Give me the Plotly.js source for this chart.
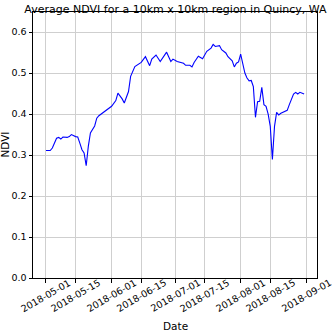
<!DOCTYPE html>
<html>
<head>
<meta charset="utf-8">
<script src="https://cdn.plot.ly/plotly-3.0.1.min.js"></script>
<style>
  html, body { margin: 0; padding: 0; background: #fff; }
  #plot-area { width: 333px; height: 333px; }
</style>
</head>
<body>
<div id="plot-area"></div>
<script>
// NDVI readings
var dates = [
    "2018-05-01", "2018-05-03", "2018-05-04", "2018-05-05", "2018-05-06", "2018-05-07",
    "2018-05-08", "2018-05-09", "2018-05-11", "2018-05-12", "2018-05-13", "2018-05-15",
    "2018-05-16", "2018-05-17", "2018-05-18", "2018-05-19", "2018-05-20", "2018-05-21",
    "2018-05-22", "2018-05-24", "2018-05-25", "2018-05-26", "2018-05-28", "2018-05-30",
    "2018-06-01", "2018-06-03", "2018-06-04", "2018-06-06", "2018-06-07", "2018-06-09",
    "2018-06-10", "2018-06-12", "2018-06-14", "2018-06-15", "2018-06-17", "2018-06-19",
    "2018-06-20", "2018-06-22", "2018-06-24", "2018-06-25", "2018-06-27", "2018-06-29",
    "2018-06-30", "2018-07-02", "2018-07-05", "2018-07-06", "2018-07-08", "2018-07-09",
    "2018-07-10", "2018-07-12", "2018-07-14", "2018-07-16", "2018-07-18", "2018-07-19",
    "2018-07-20", "2018-07-22", "2018-07-23", "2018-07-25", "2018-07-26", "2018-07-28",
    "2018-07-29", "2018-07-30", "2018-07-31", "2018-08-01", "2018-08-02", "2018-08-03",
    "2018-08-04", "2018-08-05", "2018-08-06", "2018-08-07", "2018-08-08", "2018-08-09",
    "2018-08-10", "2018-08-11", "2018-08-12", "2018-08-13", "2018-08-14", "2018-08-15",
    "2018-08-16", "2018-08-17", "2018-08-18", "2018-08-19", "2018-08-20", "2018-08-22",
    "2018-08-23", "2018-08-24", "2018-08-25", "2018-08-26", "2018-08-27", "2018-08-28",
    "2018-08-29", "2018-08-31"
];
var ndvi = [
    0.311, 0.311, 0.317, 0.328, 0.341, 0.343,
    0.339, 0.344, 0.343, 0.345, 0.350, 0.345,
    0.344, 0.329, 0.313, 0.305, 0.274, 0.321,
    0.354, 0.371, 0.390, 0.396, 0.404, 0.410,
    0.419, 0.433, 0.451, 0.437, 0.427, 0.455,
    0.492, 0.516, 0.523, 0.526, 0.540, 0.518,
    0.534, 0.544, 0.528, 0.536, 0.551, 0.528,
    0.534, 0.528, 0.524, 0.519, 0.519, 0.515,
    0.526, 0.541, 0.535, 0.553, 0.561, 0.570,
    0.565, 0.567, 0.557, 0.549, 0.540, 0.530,
    0.515, 0.524, 0.527, 0.546, 0.524, 0.500,
    0.488, 0.481, 0.482, 0.467, 0.392, 0.430,
    0.431, 0.465, 0.423, 0.419, 0.400, 0.370,
    0.289, 0.370, 0.404, 0.398, 0.402, 0.406,
    0.409, 0.423, 0.438, 0.449, 0.453, 0.449,
    0.453, 0.449
];

var xTickVals = ["2018-05-01", "2018-05-15", "2018-06-01", "2018-06-15", "2018-07-01",
                 "2018-07-15", "2018-08-01", "2018-08-15", "2018-09-01"];
var yTickVals = [0, 0.1, 0.2, 0.3, 0.4, 0.5, 0.6];

var font = "DejaVu Sans, Liberation Sans, sans-serif";

var data = [
    {
        x: dates,
        y: ndvi,
        mode: "lines",
        line: {color: "#0000ff", width: 1.1}
    }
];

// rotated date labels centred on their ticks (matplotlib style)
var annotations = xTickVals.map(function (d) {
    return {
        x: d, xref: "x",
        y: -0.066, yref: "paper",
        text: d, textangle: -30,
        showarrow: false,
        xanchor: "center", yanchor: "middle",
        font: {family: font, size: 9.5, color: "#000"}
    };
});
annotations.push({
    x: 0.5, xref: "paper", y: -0.18, yref: "paper",
    text: "Date", showarrow: false,
    xanchor: "center", yanchor: "middle",
    font: {family: font, size: 10.5, color: "#000"}
});
annotations.push({
    x: -0.1, xref: "paper", y: 0.5, yref: "paper",
    text: "NDVI", textangle: -90, showarrow: false,
    xanchor: "center", yanchor: "middle",
    font: {family: font, size: 10.5, color: "#000"}
});

var layout = {
    width: 333,
    height: 333,
    margin: {l: 33, r: 16, t: 12, b: 55},
    paper_bgcolor: "#ffffff",
    plot_bgcolor: "#ffffff",
    showlegend: false,
    font: {family: font, color: "#000", size: 10},
    title: {
        text: "Average NDVI for a 10km x 10km region in Quincy, WA",
        font: {family: font, size: 11, color: "#000"},
        x: 0.527, xanchor: "center",
        y: 0.985, yanchor: "top"
    },
    xaxis: {
        type: "date",
        range: ["2018-04-24 20:40", "2018-09-06 02:00"],
        tickvals: xTickVals,
        showticklabels: false,
        ticks: "outside", ticklen: 3.5, tickcolor: "#000",
        showline: true, linecolor: "#000", linewidth: 1, mirror: true,
        showgrid: true, gridcolor: "#cfcfcf", gridwidth: 1,
        zeroline: false
    },
    yaxis: {
        range: [0, 0.649],
        tickvals: yTickVals,
        tickformat: ".1f",
        tickfont: {family: font, size: 9.5},
        ticks: "outside", ticklen: 3.5, tickcolor: "#000",
        showline: true, linecolor: "#000", linewidth: 1, mirror: true,
        showgrid: true, gridcolor: "#cfcfcf", gridwidth: 1,
        zeroline: false
    },
    annotations: annotations
};

Plotly.newPlot("plot-area", data, layout, {displayModeBar: false, staticPlot: true});
</script>
</body>
</html>
